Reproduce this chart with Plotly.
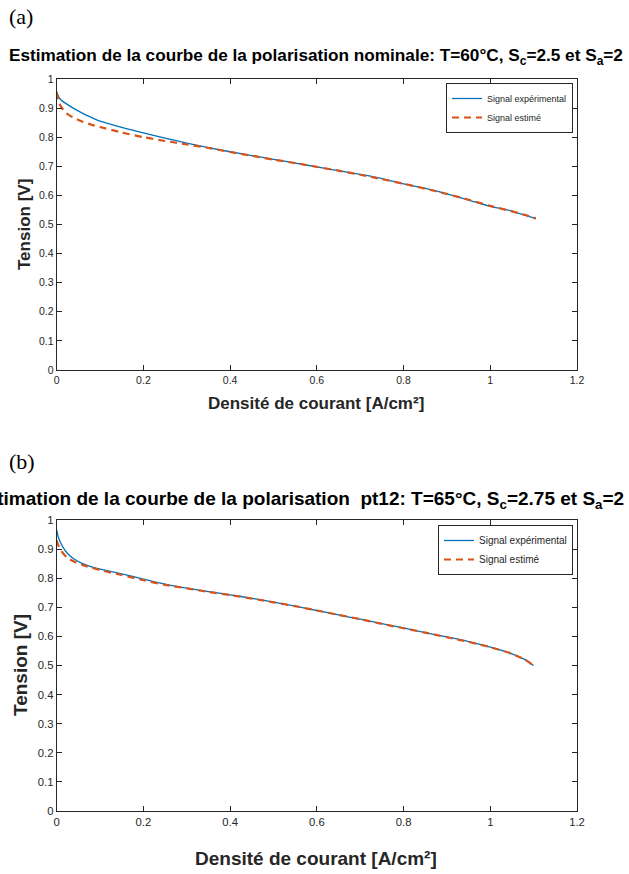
import plotly.graph_objects as go

# ---------------- data ----------------
# (a) nominal polarisation: T=60°C, Sc=2.5, Sa=2
j_exp_a = [0, 0.004, 0.01, 0.02, 0.04, 0.06, 0.08, 0.10, 0.125, 0.15, 0.175, 0.20,
           0.25, 0.30, 0.35, 0.40, 0.45, 0.50, 0.55, 0.60, 0.65, 0.70, 0.75, 0.80,
           0.85, 0.90, 0.95, 1.00, 1.03, 1.05, 1.08, 1.105]
v_exp_a = [0.956, 0.940, 0.928, 0.917, 0.898, 0.882, 0.868, 0.855, 0.844, 0.834,
           0.824, 0.815, 0.797, 0.780, 0.764, 0.750, 0.737, 0.724, 0.711, 0.698,
           0.685, 0.672, 0.658, 0.640, 0.624, 0.605, 0.584, 0.562, 0.553, 0.546,
           0.532, 0.520]
j_est_a = [0, 0.004, 0.01, 0.02, 0.04, 0.06, 0.08, 0.10, 0.15, 0.20, 0.25, 0.30,
           0.35, 0.40, 0.45, 0.50, 0.55, 0.60, 0.65, 0.70, 0.75, 0.80, 0.85,
           0.90, 0.95, 1.00, 1.05, 1.08, 1.105]
v_est_a = [0.955, 0.925, 0.905, 0.885, 0.866, 0.853, 0.843, 0.835, 0.816, 0.800,
           0.787, 0.775, 0.763, 0.749, 0.736, 0.723, 0.711, 0.698, 0.685, 0.671,
           0.656, 0.640, 0.623, 0.605, 0.585, 0.564, 0.545, 0.533, 0.521]

# (b) pt12: T=65°C, Sc=2.75, Sa=2
j_exp_b = [0, 0.004, 0.008, 0.015, 0.025, 0.04, 0.06, 0.08, 0.10, 0.15, 0.20,
           0.25, 0.30, 0.35, 0.40, 0.45, 0.50, 0.55, 0.60, 0.65, 0.70, 0.75,
           0.80, 0.85, 0.90, 0.95, 1.00, 1.05, 1.08, 1.10]
v_exp_b = [0.965, 0.940, 0.925, 0.905, 0.885, 0.866, 0.850, 0.839, 0.831, 0.815,
           0.797, 0.780, 0.766, 0.754, 0.743, 0.731, 0.718, 0.704, 0.689, 0.674,
           0.659, 0.644, 0.629, 0.613, 0.598, 0.582, 0.563, 0.540, 0.520, 0.500]
j_est_b = [0, 0.004, 0.008, 0.015, 0.025, 0.04, 0.06, 0.08, 0.10, 0.15, 0.20,
           0.25, 0.30, 0.35, 0.40, 0.45, 0.50, 0.55, 0.60, 0.65, 0.70, 0.75,
           0.80, 0.85, 0.90, 0.95, 1.00, 1.05, 1.08, 1.10]
v_est_b = [0.930, 0.912, 0.900, 0.885, 0.870, 0.857, 0.845, 0.836, 0.828, 0.811,
           0.793, 0.777, 0.765, 0.753, 0.742, 0.730, 0.717, 0.704, 0.689, 0.674,
           0.659, 0.643, 0.628, 0.613, 0.597, 0.581, 0.563, 0.540, 0.520, 0.499]

x_ticks = [0, 0.2, 0.4, 0.6, 0.8, 1, 1.2]
x_ticklabels = ["0", "0.2", "0.4", "0.6", "0.8", "1", "1.2"]
y_ticks = [0, 0.1, 0.2, 0.3, 0.4, 0.5, 0.6, 0.7, 0.8, 0.9, 1]
y_ticklabels = ["0", "0.1", "0.2", "0.3", "0.4", "0.5", "0.6", "0.7", "0.8", "0.9", "1"]

name_exp = "Signal expérimental"
name_est = "Signal estimé"
title_a = "Estimation de la courbe de la polarisation nominale: T=60°C, S<sub>c</sub>=2.5 et S<sub>a</sub>=2"
title_b = "Estimation de la courbe de la polarisation\u00a0 pt12: T=65°C, S<sub>c</sub>=2.75 et S<sub>a</sub>=2"
xlabel = "Densité de courant [A/cm²]"
ylabel = "Tension [V]"

# ---------------- figure ----------------
W, H = 629, 874
BLUE = "#0072BD"
RED = "#D95319"
AX = "#262626"
FONT = "Liberation Sans, Arial, Helvetica, sans-serif"
SERIF = "Liberation Serif, Times New Roman, serif"

def px_y(p):
    return 1 - p / H

def px_x(p):
    return p / W

fig = go.Figure()
fig.add_trace(go.Scatter(x=j_exp_a, y=v_exp_a, mode="lines", name=name_exp,
                         line=dict(color=BLUE, width=1.3, shape="spline", smoothing=0.6),
                         xaxis="x", yaxis="y", legend="legend"))
fig.add_trace(go.Scatter(x=j_est_a, y=v_est_a, mode="lines", name=name_est,
                         line=dict(color=RED, width=2.2, dash="7px,5px",
                                   shape="spline", smoothing=0.6),
                         xaxis="x", yaxis="y", legend="legend"))
fig.add_trace(go.Scatter(x=j_exp_b, y=v_exp_b, mode="lines", name=name_exp,
                         line=dict(color=BLUE, width=1.3, shape="spline", smoothing=0.6),
                         xaxis="x2", yaxis="y2", legend="legend2"))
fig.add_trace(go.Scatter(x=j_est_b, y=v_est_b, mode="lines", name=name_est,
                         line=dict(color=RED, width=2.2, dash="7px,5px",
                                   shape="spline", smoothing=0.6),
                         xaxis="x2", yaxis="y2", legend="legend2"))

xd = [px_x(56.7), px_x(577)]
top_dom = [px_y(370), px_y(79)]
bot_dom = [px_y(811), px_y(520)]

def xaxis(anchor, fs):
    return dict(domain=xd, range=[0, 1.2], anchor=anchor, tickvals=x_ticks,
                ticktext=x_ticklabels, ticks="inside", ticklen=5, tickcolor=AX,
                showline=True, linecolor=AX, linewidth=1, mirror="ticks",
                showgrid=False, zeroline=False, automargin=False,
                tickfont=dict(family=FONT, size=fs, color=AX))

def yaxis(dom, anchor, fs):
    return dict(domain=dom, range=[0, 1], anchor=anchor, tickvals=y_ticks,
                ticktext=y_ticklabels, ticks="inside", ticklen=5, tickcolor=AX,
                showline=True, linecolor=AX, linewidth=1, mirror="ticks",
                showgrid=False, zeroline=False, automargin=False,
                tickfont=dict(family=FONT, size=fs, color=AX))

def leg(ytop, size):
    return dict(x=px_x(573), xanchor="right", y=px_y(ytop), yanchor="top",
                bgcolor="white", bordercolor=AX, borderwidth=1,
                font=dict(family=FONT, size=size, color=AX),
                tracegroupgap=0, itemwidth=30)

fig.update_layout(
    width=W, height=H, autosize=False,
    margin=dict(l=0, r=0, t=0, b=0, pad=0),
    paper_bgcolor="white", plot_bgcolor="white",
    xaxis=xaxis("y", 10.5), yaxis=yaxis(top_dom, "x", 10.5),
    xaxis2=xaxis("y2", 11.3), yaxis2=yaxis(bot_dom, "x2", 11.3),
    legend=leg(83, 9), legend2=leg(525, 10),
    showlegend=True,
)

annots = [
    dict(text="(a)", x=px_x(7), y=px_y(17), xanchor="left", yanchor="middle",
         font=dict(family=SERIF, size=22, color="black")),
    dict(text="(b)", x=px_x(7), y=px_y(461), xanchor="left", yanchor="middle",
         font=dict(family=SERIF, size=22, color="black")),
    dict(text="<b>" + title_a + "</b>", x=px_x(316), y=px_y(57), xanchor="center",
         yanchor="middle", font=dict(family=FONT, size=17.2, color="black")),
    dict(text="<b>" + title_b + "</b>", x=px_x(299), y=px_y(500), xanchor="center",
         yanchor="middle", font=dict(family=FONT, size=19, color="black")),
    dict(text="<b>" + xlabel + "</b>", x=px_x(316), y=px_y(403), xanchor="center",
         yanchor="middle", font=dict(family=FONT, size=17, color=AX)),
    dict(text="<b>" + xlabel + "</b>", x=px_x(316), y=px_y(858), xanchor="center",
         yanchor="middle", font=dict(family=FONT, size=19, color=AX)),
    dict(text="<b>" + ylabel + "</b>", x=px_x(24), y=px_y(225), xanchor="center",
         yanchor="middle", textangle=-90, font=dict(family=FONT, size=17, color=AX)),
    dict(text="<b>" + ylabel + "</b>", x=px_x(20), y=px_y(665), xanchor="center",
         yanchor="middle", textangle=-90, font=dict(family=FONT, size=19, color=AX)),
]
for a in annots:
    a.update(xref="paper", yref="paper", showarrow=False)
fig.update_layout(annotations=annots)

fig.write_html("out.html",
               config={"displayModeBar": False},
               post_script="document.body.style.margin='0px';"
                           "document.body.style.overflow='hidden';")
